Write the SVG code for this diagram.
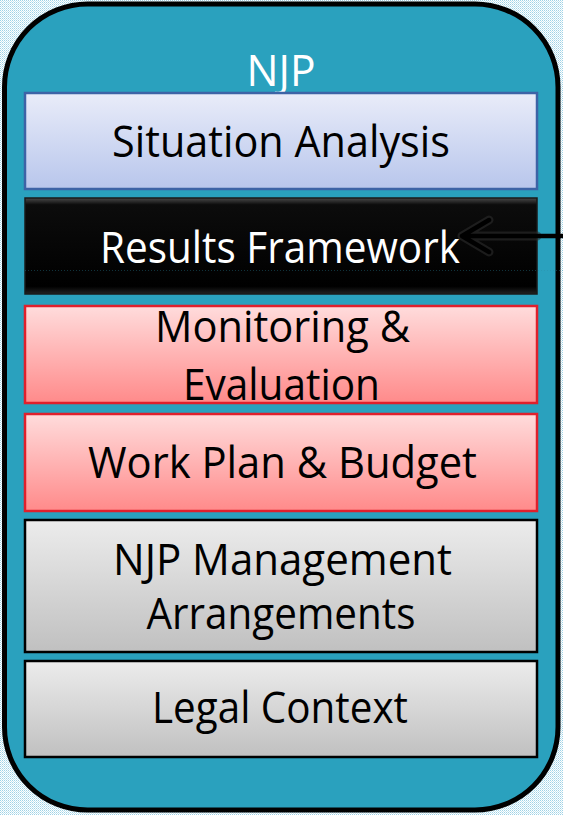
<svg xmlns="http://www.w3.org/2000/svg" width="563" height="815" viewBox="0 0 563 815">
  <defs>
    <pattern id="dots" width="2" height="2" patternUnits="userSpaceOnUse">
      <rect width="2" height="2" fill="#ffffff"/>
      <rect x="0" y="0" width="1" height="1" fill="#9fd2e6"/>
      <rect x="1" y="1" width="1" height="1" fill="#c6e6f1"/>
    </pattern>
    <linearGradient id="gBlue" x1="0" y1="0" x2="0" y2="1">
      <stop offset="0" stop-color="#e9ecf9"/>
      <stop offset="1" stop-color="#b8c6ec"/>
    </linearGradient>
    <linearGradient id="gRed" x1="0" y1="0" x2="0" y2="1">
      <stop offset="0" stop-color="#ffdcdc"/>
      <stop offset="1" stop-color="#ff8a8a"/>
    </linearGradient>
    <linearGradient id="gGray" x1="0" y1="0" x2="0" y2="1">
      <stop offset="0" stop-color="#ececec"/>
      <stop offset="1" stop-color="#c0c0c0"/>
    </linearGradient>
    <linearGradient id="gGloss" x1="0" y1="0" x2="0" y2="1">
      <stop offset="0" stop-color="#4a4a4a"/>
      <stop offset="0.07" stop-color="#0c0c0c"/>
      <stop offset="0.92" stop-color="#000000"/>
      <stop offset="1" stop-color="#222222"/>
    </linearGradient>
  </defs>
  <style>
    .lbl { font-family: "Open Sans", "Noto Sans", sans-serif; font-size: 43px; text-anchor: middle; }
    .dark { fill: #000000; }
    .light { fill: #ffffff; }
    .box { stroke-width: 2.5; }
  </style>

  <rect x="0" y="0" width="563" height="815" fill="url(#dots)"/>

  <g id="njp">
    <rect x="4.5" y="4" width="553.5" height="806" rx="83" ry="83" fill="#2aa1be" stroke="#000000" stroke-width="5"/>
    <text class="lbl light" x="281" y="86" textLength="69" lengthAdjust="spacingAndGlyphs">NJP</text>
  </g>

  <g id="situation-analysis">
    <rect class="box" x="25" y="93" width="512" height="96" fill="url(#gBlue)" stroke="#3d63a6"/>
    <text class="lbl dark" x="281" y="157" textLength="338" lengthAdjust="spacingAndGlyphs">Situation Analysis</text>
  </g>

  <g id="results-framework">
    <rect x="25" y="198" width="512" height="96" fill="url(#gGloss)" stroke="#1a1a1a" stroke-width="1.5"/>
    <line x1="25" y1="270.5" x2="563" y2="270.5" stroke="#2a8ca6" stroke-width="1" stroke-dasharray="1 2" opacity="0.35"/>
    <text class="lbl light" x="280" y="263" textLength="360" lengthAdjust="spacingAndGlyphs">Results Framework</text>
  </g>

  <g id="monitoring-evaluation">
    <rect class="box" x="25" y="306" width="512" height="97" fill="url(#gRed)" stroke="#e0202c"/>
    <text class="lbl dark" x="282.5" y="342" textLength="255" lengthAdjust="spacingAndGlyphs">Monitoring &amp;</text>
    <text class="lbl dark" x="281.5" y="400" textLength="197" lengthAdjust="spacingAndGlyphs">Evaluation</text>
  </g>

  <g id="work-plan-budget">
    <rect class="box" x="25" y="414" width="512" height="97" fill="url(#gRed)" stroke="#e0202c"/>
    <text class="lbl dark" x="282.5" y="478" textLength="389" lengthAdjust="spacingAndGlyphs">Work Plan &amp; Budget</text>
  </g>

  <g id="njp-management">
    <rect class="box" x="25" y="520" width="512" height="132" fill="url(#gGray)" stroke="#000000"/>
    <text class="lbl dark" x="282.5" y="575" textLength="339" lengthAdjust="spacingAndGlyphs">NJP Management</text>
    <text class="lbl dark" x="281" y="629" textLength="269" lengthAdjust="spacingAndGlyphs">Arrangements</text>
  </g>

  <g id="legal-context">
    <rect class="box" x="25" y="661" width="512" height="96" fill="url(#gGray)" stroke="#000000"/>
    <text class="lbl dark" x="280" y="723" textLength="256" lengthAdjust="spacingAndGlyphs">Legal Context</text>
  </g>

  <g id="connectors" fill="none" stroke-linecap="round" stroke-linejoin="round">
    <path d="M537 236 L462 236 M489 220 L462 236 L489 252" stroke="#303030" stroke-width="9" opacity="0.55"/>
    <path d="M566 236 L462 236 M489 220 L462 236 L489 252" stroke="#000000" stroke-width="4.5"/>
  </g>
</svg>
